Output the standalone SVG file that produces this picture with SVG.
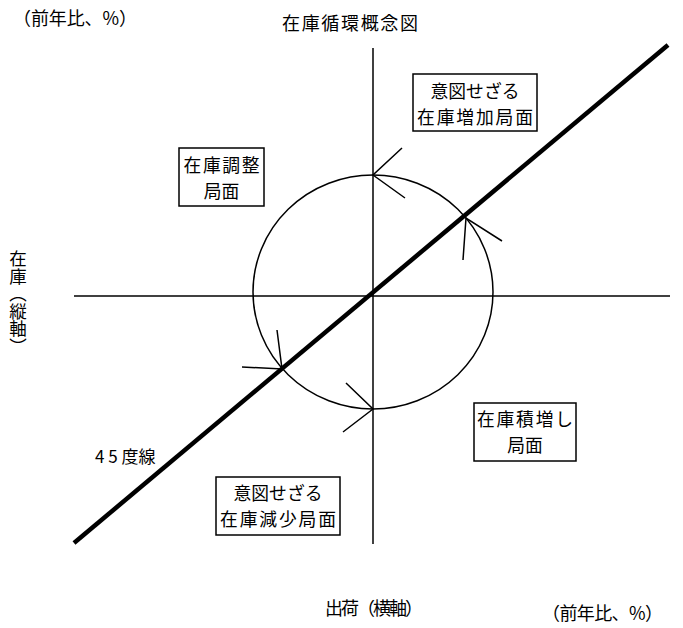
<svg xmlns="http://www.w3.org/2000/svg" width="683" height="628" viewBox="0 0 683 628">
<style>
text{font-family:"Noto Sans CJK JP","Noto Sans",sans-serif;fill:#000;}
.lbl{font-size:18px;}
.box{font-size:17.8px;text-anchor:middle;}
.bx{fill:#fff;stroke:#000;stroke-width:1.5;}
.ax{stroke:#000;stroke-width:1.5;fill:none;}
.arw{stroke:#000;stroke-width:1.5;fill:none;}
</style>
<rect width="683" height="628" fill="#fff"/>
<g id="labels">
<text class="lbl" x="13" y="25" textLength="124" lengthAdjust="spacing">（前年比、%）</text>
<text class="lbl" x="282" y="30" textLength="136" lengthAdjust="spacing">在庫循環概念図</text>
<text class="lbl" x="325" y="615" textLength="98" lengthAdjust="spacing">出荷（横軸）</text>
<text class="lbl" x="542" y="620" textLength="121" lengthAdjust="spacing">（前年比、%）</text>
<text id="ylabel" x="18" y="250" style="font-size:17.5px;writing-mode:vertical-rl">在庫（縦軸）</text>
<text class="lbl" x="95" y="463" style="font-size:17px">4 5 度線</text>
</g>
<g id="connectors">
<line class="ax" x1="373" y1="48" x2="373" y2="544"/>
<line class="ax" x1="74" y1="296" x2="670" y2="296"/>
<ellipse class="ax" cx="373" cy="292" rx="120" ry="117"/>
<line x1="74" y1="543" x2="668" y2="45" stroke="#000" stroke-width="4.5"/>
<polyline class="arw" points="402,148 373,175 405,198"/>
<polyline class="arw" points="502,241 466,218 463,260"/>
<polyline class="arw" points="277,330 282,369 242,367"/>
<polyline class="arw" points="346,383 373,409 343,432"/>
</g>
<g id="node-adjust">
<rect class="bx" x="179" y="148" width="85" height="58"/>
<text class="box"><tspan x="221.5" y="172" textLength="76" lengthAdjust="spacing">在庫調整</tspan><tspan x="221.5" y="198">局面</tspan></text>
</g>
<g id="node-increase">
<rect class="bx" x="413" y="74" width="124" height="57"/>
<text class="box"><tspan x="475" y="98">意図せざる</tspan><tspan x="475" y="124" textLength="116" lengthAdjust="spacing">在庫増加局面</tspan></text>
</g>
<g id="node-build">
<rect class="bx" x="474" y="403" width="102" height="58"/>
<text class="box"><tspan x="525" y="426" textLength="96" lengthAdjust="spacing">在庫積増し</tspan><tspan x="525" y="452">局面</tspan></text>
</g>
<g id="node-decrease">
<rect class="bx" x="216" y="477" width="124" height="58"/>
<text class="box"><tspan x="278" y="500">意図せざる</tspan><tspan x="278" y="526" textLength="116" lengthAdjust="spacing">在庫減少局面</tspan></text>
</g>
</svg>
